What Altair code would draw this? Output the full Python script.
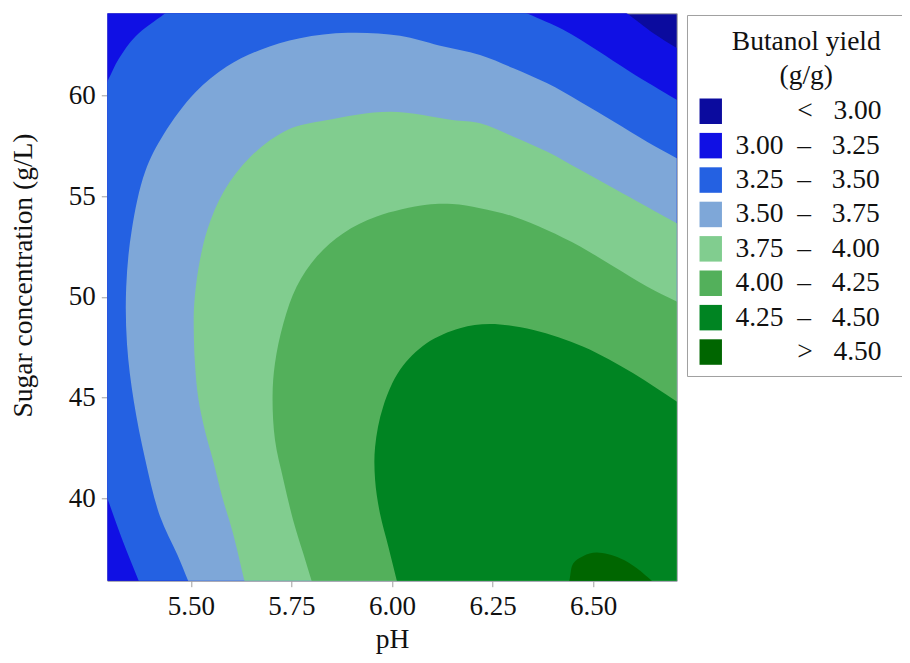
import altair as alt
import pandas as pd

FONT = "Liberation Serif"
NB = "\u00a0"
ZW = "\u200b"

# axis domains (pH, sugar g/L)
X_MIN, X_MAX = 5.292, 6.708
Y_MIN, Y_MAX = 35.9, 64.1
# closing bounds outside the plot (clipped away)
XO0, XO1 = 5.20, 6.80
YO0, YO1 = 34.0, 66.0

bands = ["< 3.00", "3.00 – 3.25", "3.25 – 3.50", "3.50 – 3.75",
         "3.75 – 4.00", "4.00 – 4.25", "4.25 – 4.50", "> 4.50"]
colors = ["#0b0b9e", "#1010e4", "#2461e2", "#7ea7d8",
          "#81cd8f", "#53b05b", "#008422", "#006600"]

x_ticks = [5.50, 5.75, 6.00, 6.25, 6.50]
y_ticks = [40, 45, 50, 55, 60]

# contour lines (pH, sugar)
c300_ph = [6.584, 6.650, 6.708]
c300_su = [64.1, 63.11, 62.37]

c325a_ph = [5.436, 5.362, 5.321, 5.292]          # top-left corner
c325a_su = [64.1, 62.95, 61.85, 60.70]
c325b_ph = [5.292, 5.331, 5.370]                 # bottom-left corner
c325b_su = [40.00, 37.85, 35.9]
c325c_ph = [6.708, 6.592, 6.509, 6.426, 6.335]   # top-right
c325c_su = [59.80, 61.20, 62.28, 63.28, 64.1]

c350_ph = [5.493, 5.466, 5.423, 5.386, 5.358, 5.341, 5.339, 5.353, 5.386,
           5.433, 5.510, 5.589, 5.672, 5.771, 5.890, 6.020, 6.117, 6.219,
           6.302, 6.385, 6.468, 6.551, 6.634, 6.708]
c350_su = [35.9, 37.20, 39.10, 41.95, 44.80, 47.65, 50.50, 53.36, 56.22,
           58.11, 60.15, 61.45, 62.28, 62.86, 63.13, 62.98, 62.50, 62.03,
           61.37, 60.63, 59.71, 58.72, 57.72, 56.90]

c375_ph = [5.633, 5.604, 5.578, 5.556, 5.533, 5.518, 5.510, 5.507, 5.508,
           5.519, 5.541, 5.582, 5.648, 5.741, 5.836, 5.995, 6.150, 6.219,
           6.302, 6.385, 6.468, 6.551, 6.634, 6.708]
c375_su = [35.9, 38.30, 40.05, 41.80, 43.50, 45.00, 46.70, 48.40, 49.60,
           51.46, 53.36, 55.26, 56.97, 58.31, 58.78, 59.21, 58.80, 58.64,
           57.97, 57.23, 56.32, 55.41, 54.49, 53.67]

c400_ph = [5.800, 5.779, 5.754, 5.730, 5.709, 5.703, 5.709, 5.730, 5.763,
           5.813, 5.879, 5.962, 6.086, 6.150, 6.219, 6.302, 6.385, 6.468,
           6.551, 6.634, 6.708]
c400_su = [35.9, 37.27, 38.92, 40.91, 42.90, 45.05, 46.71, 48.70, 50.52,
           52.01, 53.17, 54.00, 54.58, 54.62, 54.41, 54.00, 53.33, 52.51,
           51.51, 50.52, 49.77]

c425_ph = [6.012, 5.991, 5.970, 5.958, 5.958, 5.978, 6.020, 6.086, 6.169,
           6.244, 6.352, 6.476, 6.600, 6.708]
c425_su = [35.9, 37.59, 39.25, 40.91, 42.56, 44.55, 46.38, 47.70, 48.45,
           48.66, 48.36, 47.53, 46.21, 44.80]

c450_ph = [6.441, 6.451, 6.476, 6.509, 6.567, 6.609, 6.646]
c450_su = [35.9, 36.77, 37.13, 37.30, 37.02, 36.52, 35.9]

# region above each level: list of contour pieces and plot corners
regions = [
    (1, [(c300_ph, c300_su), "BR", "BL", "TL"]),
    (2, [(c325a_ph, c325a_su), (c325b_ph, c325b_su), "BR", (c325c_ph, c325c_su)]),
    (3, [(c350_ph, c350_su), "BR"]),
    (4, [(c375_ph, c375_su), "BR"]),
    (5, [(c400_ph, c400_su), "BR"]),
    (6, [(c425_ph, c425_su), "BR"]),
    (7, [(c450_ph, c450_su)]),
]

corners = {"BR": (XO1, YO0), "BL": (XO0, YO0), "TL": (XO0, YO1), "TR": (XO1, YO1)}


def extend(end, prev):
    """Continue a contour past the plot edge (outside the clipped view)."""
    x, y = end
    dx, dy = x - prev[0], y - prev[1]
    if abs(x - X_MIN) < 1e-9:
        t = (XO0 - x) / dx
    elif abs(x - X_MAX) < 1e-9:
        t = (XO1 - x) / dx
    elif abs(y - Y_MIN) < 1e-9:
        t = (YO0 - y) / dy
    else:
        t = (YO1 - y) / dy
    return (x + t * dx, y + t * dy)


rows = []
for k, (band_idx, parts) in enumerate(regions):
    pts = []
    for p in parts:
        if isinstance(p, str):
            pts.append(corners[p])
        else:
            xs, ys = p
            line = list(zip(xs, ys))
            pts.append(extend(line[0], line[1]))
            pts.extend(line)
            pts.append(extend(line[-1], line[-2]))
    for i, (x, y) in enumerate(pts):
        rows.append({"region": k, "band": bands[band_idx], "i": i, "ph": x, "sugar": y})
df = pd.DataFrame(rows)

label_expr = (
    "indexof(datum.label, '<') == 0 || indexof(datum.label, '>') == 0 ? "
    f"'{ZW}{NB * 9}' + replace(datum.label, ' ', '{NB * 3}') + '{NB * 2}{ZW}' : "
    f"replace(datum.label, ' – ', '{NB * 2}–{NB * 3}') + '{NB * 2}{ZW}'"
)

# tall rectangle legend swatch
swatch = "M-0.88,-1H0.88V1H-0.88Z"

legend = alt.Legend(
    title=[ZW + NB * 3 + "Butanol yield", ZW + NB * 3 + "(g/g)"],
    orient="none", legendX=579.7, legendY=1.7,
    symbolType=swatch, symbolSize=650, symbolStrokeWidth=0,
    labelFont=FONT, labelFontSize=27.5, labelColor="#111111", labelOffset=11,
    labelLimit=400, labelExpr=label_expr,
    titleFont=FONT, titleFontSize=27.5, titleFontWeight="normal", titleColor="#111111",
    titleAlign="center", titleAnchor="middle", titleLineHeight=34,
    titleBaseline="line-top", titlePadding=11,
    padding=10, rowPadding=5.4, strokeColor="#a0a0a0", fillColor="white",
)

fill_enc = alt.Fill("band:N", scale=alt.Scale(domain=bands, range=colors), legend=legend)

x_enc = alt.X(
    "ph:Q",
    scale=alt.Scale(domain=[X_MIN, X_MAX], nice=False, zero=False),
    axis=alt.Axis(
        values=x_ticks, format=".2f", grid=False, domain=False,
        tickSize=6, tickColor="#a0a0a0", labelFont=FONT, labelFontSize=27,
        labelColor="#111111", labelPadding=7, title="pH", titleFont=FONT,
        titleFontSize=27.5, titleFontWeight="normal", titleColor="#111111",
        titleY=67, titleBaseline="alphabetic",
    ),
)
y_enc = alt.Y(
    "sugar:Q",
    scale=alt.Scale(domain=[Y_MIN, Y_MAX], nice=False, zero=False),
    axis=alt.Axis(
        values=y_ticks, format="d", grid=False, domain=False,
        tickSize=6, tickColor="#a0a0a0", labelFont=FONT, labelFontSize=27,
        labelColor="#111111", labelPadding=6, title="Sugar concentration (g/L)",
        titleFont=FONT, titleFontSize=27.5, titleFontWeight="normal",
        titleColor="#111111", titleAngle=270, titleX=-75.5, titleY=261.7,
        titleBaseline="alphabetic", titleAlign="center",
    ),
)

layers = []
for k in range(len(regions)):
    layers.append(
        alt.Chart(df)
        .transform_filter(alt.datum.region == k)
        .mark_line(strokeWidth=0, clip=True, interpolate="catmull-rom")
        .encode(x=x_enc, y=y_enc, order=alt.Order("i:Q"), fill=fill_enc)
    )

chart = (
    alt.layer(*layers)
    .properties(
        width=569.4, height=567.4, autosize="none",
        padding={"left": 99.3, "top": 5.3, "right": 225, "bottom": 74},
    )
    .configure_view(fill=colors[0], stroke="#a0a0a0", strokeWidth=1)
)

chart.save("out.html", embed_options={"renderer": "svg", "actions": False})
